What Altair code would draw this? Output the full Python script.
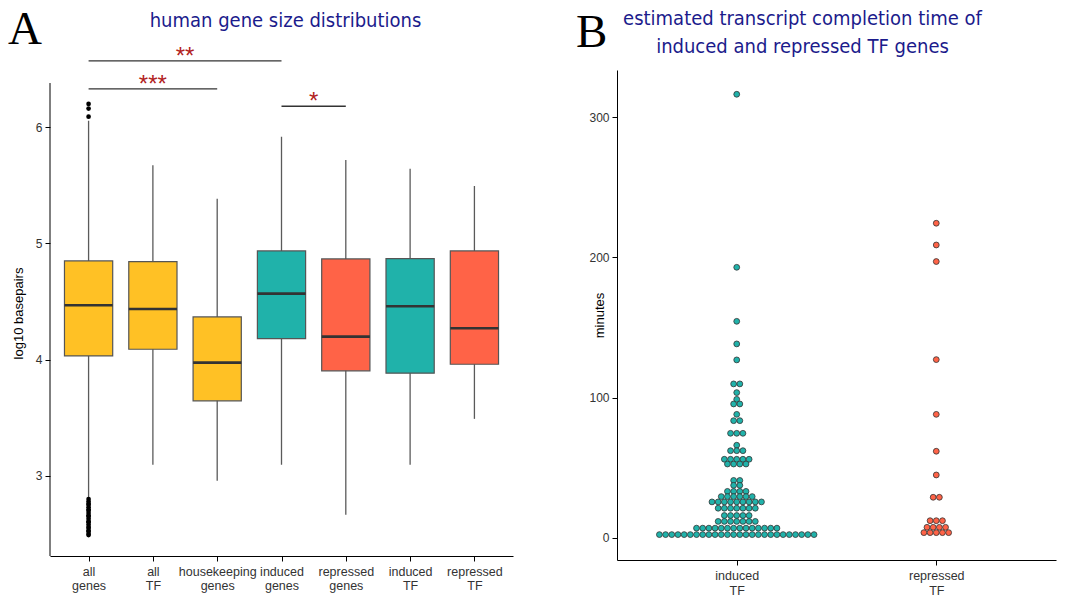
import json
import altair as alt
import pandas as pd
import numpy as np

# ---------------- Panel A data ----------------
categories = ["all genes", "all TF", "housekeeping genes", "induced genes",
              "repressed genes", "induced TF", "repressed TF"]
groups = ["all", "all", "all", "induced", "repressed", "induced", "repressed"]
whisker_low = [2.81, 3.095, 2.957, 3.095, 2.665, 3.095, 3.49]
q1 = [4.032, 4.089, 3.645, 4.181, 3.903, 3.883, 3.96]
median = [4.468, 4.436, 3.974, 4.568, 4.198, 4.459, 4.27]
q3 = [4.849, 4.843, 4.367, 4.935, 4.866, 4.869, 4.935]
whisker_high = [6.055, 5.672, 5.385, 5.918, 5.717, 5.643, 5.494]

outliers_all_genes = [6.09, 6.16, 6.20,
                      2.49, 2.50, 2.52, 2.53, 2.55, 2.56, 2.58, 2.60, 2.61, 2.63,
                      2.65, 2.66, 2.68, 2.70, 2.71, 2.73, 2.75, 2.76, 2.78, 2.80]

sig_from = [1, 1, 4]
sig_to = [4, 3, 5]
sig_y = [6.57, 6.33, 6.18]
sig_label = ["**", "***", "*"]

y_axis_range_A = [2.31, 6.38]      # extent of the drawn y axis line
title_A = "human gene size distributions"

# ---------------- Panel B data ----------------
tf_groups = ["induced TF", "repressed TF"]
induced_minutes = [316.2, 192.9, 154.4, 138.3, 126.9, 109.8, 103.6, 98.8, 95.5, 88.1,
                   83.6, 74.6, 66.1, 62.2, 56.1, 52.7, 41.0, 37.5, 33.2, 29.5,
                   25.7, 21.2, 16.0, 11.8, 7.0, 2.4]
induced_counts = [1, 1, 1, 1, 1, 2, 1, 1, 2, 1,
                  2, 3, 1, 3, 5, 4, 2, 2, 4, 6,
                  9, 7, 5, 7, 14, 26]
repressed_minutes = [224.3, 208.8, 197.0, 127.1, 88.1, 61.8, 44.9, 29.0, 12.3, 7.6, 3.8]
repressed_counts = [1, 1, 1, 1, 1, 1, 1, 2, 3, 4, 5]

title_B = ["estimated transcript completion time of", "induced and repressed TF genes"]

group_colors = {"all": "#FFC125", "induced": "#20B2AA", "repressed": "#FF6347"}

FONT = "Liberation Sans"
TITLE_FONT = "DejaVu Sans Condensed, Roboto Condensed, Liberation Sans Narrow, Liberation Sans"
TITLE_COLOR = "#1B1B8C"
TITLE_SIZE = 20
LETTER_FONT = "Liberation Serif"

# ---------------- tables ----------------
box_df = pd.DataFrame({
    "cat": categories, "group": groups, "pos": np.arange(1, len(categories) + 1),
    "wlo": whisker_low, "q1": q1, "median": median, "q3": q3, "whi": whisker_high,
})
out_df = pd.DataFrame({"pos": 1, "v": outliers_all_genes})
sig_df = pd.DataFrame({"from": sig_from, "to": sig_to, "y": sig_y, "label": sig_label})
axis_line_df = pd.DataFrame({"x": [0.4], "y1": [y_axis_range_A[0]], "y2": [y_axis_range_A[1]]})

dots_df = pd.concat([
    pd.DataFrame({"grp": "induced", "gidx": 1,
                  "minutes": np.repeat(induced_minutes, induced_counts)}),
    pd.DataFrame({"grp": "repressed", "gidx": 2,
                  "minutes": np.repeat(repressed_minutes, repressed_counts)}),
], ignore_index=True)

fill_scale = alt.Scale(domain=list(group_colors.keys()), range=list(group_colors.values()))

label_expr_A = "split(" + json.dumps(categories) + "[datum.value - 1], ' ')"
label_expr_B = "split(" + json.dumps(tf_groups) + "[datum.value - 1], ' ')"

axis_common = dict(grid=False, domainColor="black", domainWidth=1, tickColor="black",
                   tickSize=5, tickWidth=1, labelColor="#333333", labelFont=FONT,
                   titleFont=FONT, titleFontSize=13,
                   titleColor="black", titleFontWeight="normal")


def text_layer(text, x, y, **kw):
    return alt.Chart(pd.DataFrame({"t": [text]})).mark_text(**kw).encode(
        x=alt.value(x), y=alt.value(y), text="t:N")


# ---------------- Panel A ----------------
xA = alt.X("pos:Q", scale=alt.Scale(domain=[0.4, 7.6], nice=False, zero=False),
           axis=alt.Axis(values=list(range(1, 8)), labelExpr=label_expr_A,
                         labelFontSize=12.5, labelLineHeight=14.5, labelPadding=4,
                         title=None, **axis_common))
yA = alt.Y("wlo:Q", scale=alt.Scale(domain=[2.31, 6.492], nice=False, zero=False),
           axis=alt.Axis(values=[3, 4, 5, 6], format="d", title="log10 basepairs",
                         labelFontSize=12, domain=False, labelPadding=3, titleX=-32,
                         titleBaseline="middle", **axis_common))

baseA = alt.Chart(box_df)
whiskers = baseA.mark_rule(color="#5A5A5A", strokeWidth=1.3).encode(
    x=xA, y=yA, y2="whi:Q")
boxes = baseA.transform_calculate(
    xl="datum.pos - 0.375", xr="datum.pos + 0.375"
).mark_bar(stroke="#555555", strokeWidth=1.2).encode(
    x="xl:Q", x2="xr:Q", y="q1:Q", y2="q3:Q",
    fill=alt.Fill("group:N", scale=fill_scale, legend=None))
medians = baseA.transform_calculate(
    xl="datum.pos - 0.375", xr="datum.pos + 0.375"
).mark_rule(color="#333333", strokeWidth=2.6).encode(
    x="xl:Q", x2="xr:Q", y="median:Q")
outliers = alt.Chart(out_df).mark_circle(color="black", size=22, opacity=1).encode(
    x="pos:Q", y="v:Q")
axis_line_A = alt.Chart(axis_line_df).mark_rule(color="black", strokeWidth=1).encode(
    x="x:Q", y="y1:Q", y2="y2:Q")
sig_lines = alt.Chart(sig_df).mark_rule(color="#333333", strokeWidth=1.3).encode(
    x="from:Q", x2="to:Q", y="y:Q")
sig_text = alt.Chart(sig_df).transform_calculate(
    mid="(datum.from + datum.to) / 2"
).mark_text(color="#B22222", fontSize=24, font=FONT, baseline="alphabetic", dy=3).encode(
    x="mid:Q", y="y:Q", text="label:N")

letterA = text_layer("A", -42, -26.5, font=LETTER_FONT, fontSize=47, align="left",
                     baseline="alphabetic", color="black")
titleA = text_layer(title_A, 235.5, -43, font=TITLE_FONT, fontSize=TITLE_SIZE,
                    align="center", baseline="alphabetic", color=TITLE_COLOR)

panelA = alt.layer(whiskers, boxes, medians, outliers, axis_line_A, sig_lines, sig_text,
                   letterA, titleA).properties(width=463, height=486)

# ---------------- Panel B ----------------
dots = alt.Chart(dots_df).transform_window(
    slot="row_number()", n="count()", groupby=["grp", "minutes"], frame=[None, None]
).transform_calculate(
    xpos="datum.gidx + (datum.slot - 1 - (datum.n - 1) / 2) * 0.031"
).mark_circle(size=34, opacity=1, stroke="#333333", strokeWidth=0.8).encode(
    x=alt.X("xpos:Q", scale=alt.Scale(domain=[0.4, 2.6], nice=False, zero=False),
            axis=alt.Axis(values=[1, 2], labelExpr=label_expr_B, labelFontSize=12.5,
                          labelLineHeight=15, labelPadding=4, title=None, **axis_common)),
    y=alt.Y("minutes:Q", scale=alt.Scale(domain=[-15.7, 333.5], nice=False, zero=False),
            axis=alt.Axis(values=[0, 100, 200, 300], format="d", title="minutes",
                          labelFontSize=12, labelPadding=3, titleX=-18,
                          titleBaseline="middle", **axis_common)),
    fill=alt.Fill("grp:N", scale=fill_scale, legend=None),
)
letterB = text_layer("B", -41, -23, font=LETTER_FONT, fontSize=47, align="left",
                     baseline="alphabetic", color="black")
titleB = text_layer(title_B, 185.5, -45, font=TITLE_FONT, fontSize=TITLE_SIZE,
                    align="center", baseline="alphabetic", color=TITLE_COLOR, lineHeight=28)
anchorB = text_layer(" ", 0, -70, fontSize=8, align="left", baseline="top")

panelB = alt.layer(dots, letterB, titleB, anchorB).properties(width=439, height=490)

chart = alt.hconcat(panelA, panelB, spacing=63).properties(
    padding={"left": 8, "top": 0, "right": 5, "bottom": 2}
).configure_view(stroke=None)

chart.save("out.html", embed_options={"renderer": "svg", "actions": False})
